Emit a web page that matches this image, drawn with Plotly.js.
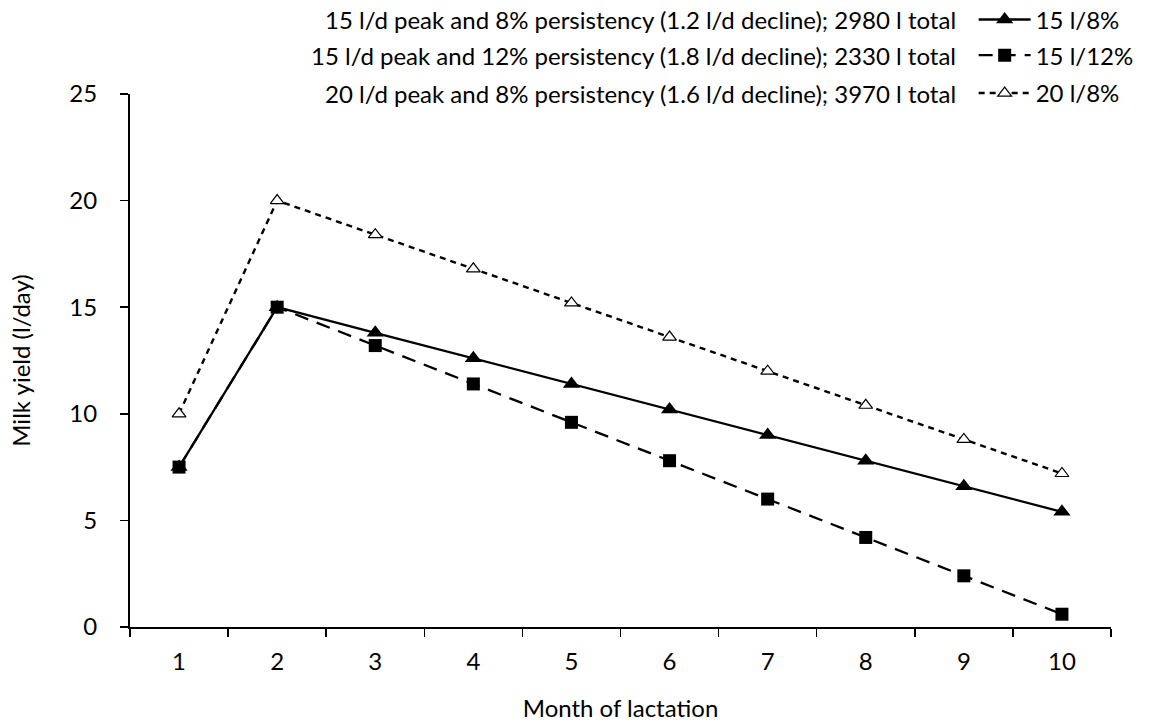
<!DOCTYPE html>
<html>
<head>
<meta charset="utf-8">
<script src="https://cdn.plot.ly/plotly-3.0.1.min.js"></script>
<style>html,body{margin:0;padding:0;background:#fff;}#chart{width:1155px;height:726px;}</style>
</head>
<body>
<div id="chart"></div>
<script>
const months = ["1","2","3","4","5","6","7","8","9","10"];
const peak15p8 = [7.5, 15, 13.8, 12.6, 11.4, 10.2, 9.0, 7.8, 6.6, 5.4];
const peak15p12 = [7.5, 15, 13.2, 11.4, 9.6, 7.8, 6.0, 4.2, 2.4, 0.6];
const peak20p8 = [10, 20, 18.4, 16.8, 15.2, 13.6, 12.0, 10.4, 8.8, 7.2];
const seriesNames = ["15 l/8%", "15 l/12%", "20 l/8%"];
const descriptions = [
  "15 l/d peak and 8% persistency (1.2 l/d decline); 2980 l total",
  "15 l/d peak and 12% persistency (1.8 l/d decline); 2330 l total",
  "20 l/d peak and 8% persistency (1.6 l/d decline); 3970 l total"
];
const yTicks = [0, 5, 10, 15, 20, 25];

const FONT = "Lato, 'Open Sans', sans-serif";
const FS = 24;

const traces = [
  {x: months, y: peak20p8, name: seriesNames[2], type: 'scatter', mode: 'lines+markers',
   legend: 'legend3',
   line: {color: '#000', width: 2.4, dash: '6px,5px'},
   marker: {symbol: 'triangle-up', size: 12, color: '#fff', line: {color: '#000', width: 1.2}}},
  {x: months, y: peak15p8, name: seriesNames[0], type: 'scatter', mode: 'lines+markers',
   legend: 'legend',
   line: {color: '#000', width: 2.3},
   marker: {symbol: 'triangle-up', size: 15, color: '#000'}},
  {x: months, y: peak15p12, name: seriesNames[1], type: 'scatter', mode: 'lines+markers',
   legend: 'legend2',
   line: {color: '#000', width: 2.3, dash: '14px,9px'},
   marker: {symbol: 'square', size: 13, color: '#000'}}
];

const rowY = [1.139, 1.072, 1.001];
const annotations = descriptions.map((t, i) => ({
  text: t, xref: 'paper', yref: 'paper', x: 0.844, y: rowY[i],
  xanchor: 'right', yanchor: 'middle', showarrow: false,
  font: {family: FONT, size: FS, color: '#000'}
}));

function leg(y) {
  return {
    x: 0.86, y: y, xanchor: 'left', yanchor: 'middle',
    font: {family: FONT, size: FS, color: '#000'},
    itemwidth: 52, bgcolor: 'rgba(0,0,0,0)'
  };
}

const layout = {
  width: 1155, height: 726,
  margin: {l: 130, r: 44, t: 94, b: 99, autoexpand: false},
  paper_bgcolor: '#fff', plot_bgcolor: '#fff',
  font: {family: FONT, size: FS, color: '#000'},
  showlegend: true,
  legend: leg(rowY[0]),
  legend2: leg(rowY[1]),
  legend3: leg(rowY[2]),
  xaxis: {
    type: 'category', tickson: 'boundaries', range: [-0.5, 9.5],
    showline: true, linecolor: '#000', linewidth: 2,
    ticks: 'outside', ticklen: 8, tickwidth: 1.5, tickcolor: '#000',
    showgrid: false, zeroline: false, ticklabelstandoff: 12,
    tickfont: {family: FONT, size: FS},
    title: {text: 'Month of lactation', font: {family: FONT, size: FS}, standoff: 26}
  },
  yaxis: {
    range: [0, 25], tickvals: yTicks,
    showline: true, linecolor: '#000', linewidth: 2,
    ticks: 'outside', ticklen: 8, tickwidth: 1.5, tickcolor: '#000',
    showgrid: false, zeroline: false, ticklabelstandoff: 18,
    tickfont: {family: FONT, size: FS},
    title: {text: 'Milk yield (l/day)', font: {family: FONT, size: FS}, standoff: 32}
  },
  annotations: annotations
};

Plotly.newPlot('chart', traces, layout, {displayModeBar: false, staticPlot: true});
</script>
</body>
</html>
